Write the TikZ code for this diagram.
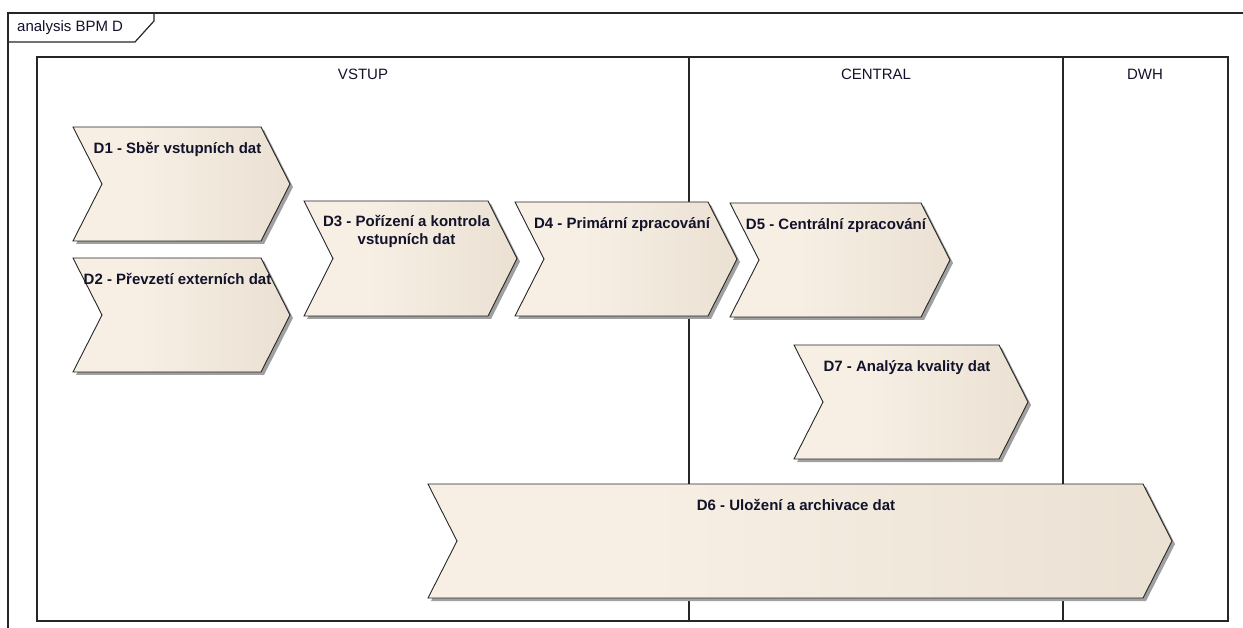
\documentclass[tikz,border=0pt]{standalone}
\usepackage{fontspec}
\setmainfont{Liberation Sans}

\definecolor{chevlite}{HTML}{F7EFE4}
\definecolor{chevdark}{HTML}{E1D7C7}
\definecolor{shadowgray}{HTML}{A0A0A0}
\definecolor{labeltext}{HTML}{12122A}
\definecolor{framegray}{HTML}{262626}

% light on the left part, darkening towards the tip
\pgfdeclarehorizontalshading{chevfill}{100bp}{color(0bp)=(chevlite); color(40bp)=(chevlite); color(100bp)=(chevdark)}

\tikzset{
  frameline/.style={draw=framegray, line width=1.2pt},
  chevline/.style={draw=black!85, line width=0.9pt, line join=miter},
  chevshadow/.style={fill=shadowgray},
  chevlabel/.style={font=\fontsize{15}{18}\selectfont\bfseries, text=labeltext,
    anchor=base, inner sep=0pt, align=center},
  lanelabel/.style={font=\fontsize{15}{18}\selectfont, text=labeltext,
    anchor=base, inner sep=0pt},
}

% process chevron: name, left x, top y, tip x, bottom y, label,
% baseline of the last label line below the top edge
\newcommand\procchevron[7]{%
  \pgfmathsetmacro\cym{(#3+#5)/2}
  \pgfmathsetmacro\cxs{#4-29}
  \pgfmathsetmacro\cxn{#2+29}
  \pgfmathsetmacro\cxm{(#2+#4)/2-4}
  \pgfmathsetmacro\cyb{#3+#7}
  \fill[chevshadow] (#2+3,#3+3) -- (\cxs+3,#3+3) -- (#4+3,\cym+3)
    -- (\cxs+3,#5+3) -- (#2+3,#5+3) -- (\cxn+3,\cym+3) -- cycle;
  \shade[shading=chevfill] (#2,#3) -- (\cxs,#3) -- (#4,\cym)
    -- (\cxs,#5) -- (#2,#5) -- (\cxn,\cym) -- cycle;
  \draw[chevline] (#2,#3) -- (\cxs,#3) -- (#4,\cym)
    -- (\cxs,#5) -- (#2,#5) -- (\cxn,\cym) -- cycle;
  \node[chevlabel] (#1) at (\cxm,\cyb) {#6};
}

\begin{document}
\begin{tikzpicture}[x=1pt,y=-1pt]
  \useasboundingbox (0,0) rectangle (1243,628);
  \fill[white] (0,0) rectangle (1243,628);

  % diagram frame with its name tab
  \draw[frameline] (8,632) -- (8,13) -- (1247,13);
  \draw[frameline] (8,42) -- (135,42) -- (154,21) -- (154,13);
  \node[lanelabel, anchor=base west] (framelabel) at (17,32) {analysis BPM D};

  % swimlane block
  \draw[frameline] (37,57) rectangle (1228,621);
  \draw[frameline] (689,57) -- (689,621);
  \draw[frameline] (1063,57) -- (1063,621);
  \node[lanelabel] (vstup) at (363,80) {VSTUP};
  \node[lanelabel] (central) at (876,80) {CENTRAL};
  \node[lanelabel] (dwh) at (1145,80) {DWH};

  % processes
  \procchevron{d1}{73}{127}{290}{241}{D1 - Sběr vstupních dat}{26.5}
  \procchevron{d2}{73}{258}{290}{372}{D2 - Převzetí externích dat}{26.5}
  \procchevron{d3}{304}{201}{517}{316}{D3 - Pořízení a kontrola\\vstupních dat}{43.5}
  \procchevron{d4}{515}{202}{737}{316}{D4 - Primární zpracování}{26.5}
  \procchevron{d5}{730}{203}{950}{317}{D5 - Centrální zpracování}{26.5}
  \procchevron{d7}{794}{345}{1028}{459}{D7 - Analýza kvality dat}{26.5}
  \procchevron{d6}{428}{484}{1172}{598}{D6 - Uložení a archivace dat}{26.5}
\end{tikzpicture}
\end{document}
